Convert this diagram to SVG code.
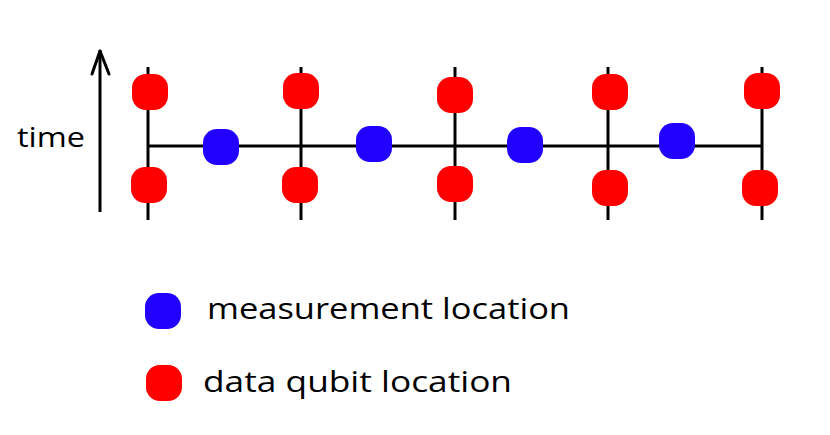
<svg xmlns="http://www.w3.org/2000/svg" width="830" height="435" viewBox="0 0 830 435">
<style>
.ln{stroke:#000;stroke-width:3;fill:none}
.red{fill:#ff0000}
.blue{fill:#2200ff}
.t{font-family:"Comic Sans MS","Open Sans","DejaVu Sans",sans-serif;fill:#000}
</style>
<defs>
<rect id="dot" x="-18" y="-18" width="36" height="36" rx="14"/>
</defs>
<rect width="830" height="435" fill="#fff"/>
<g id="connectors">
<line class="ln" x1="148" y1="146" x2="762" y2="146"/>
<line class="ln" x1="148" y1="67" x2="148" y2="220"/>
<line class="ln" x1="301" y1="67" x2="301" y2="220"/>
<line class="ln" x1="455" y1="67" x2="455" y2="220"/>
<line class="ln" x1="608" y1="67" x2="608" y2="220"/>
<line class="ln" x1="762" y1="67" x2="762" y2="220"/>
</g>
<g id="time-axis">
<line class="ln" x1="100" y1="212" x2="100" y2="50"/>
<polyline class="ln" points="92,74 100,51 109,74" stroke-width="4" stroke-linejoin="round" stroke-linecap="round"/>
<text class="t" x="17" y="147" font-size="28" font-weight="500" textLength="68" lengthAdjust="spacingAndGlyphs">time</text>
</g>
<g id="data-qubits" class="red">
<use href="#dot" x="150" y="92"/>
<use href="#dot" x="149" y="185"/>
<use href="#dot" x="301" y="91"/>
<use href="#dot" x="300" y="185"/>
<use href="#dot" x="455" y="95"/>
<use href="#dot" x="455" y="184"/>
<use href="#dot" x="610" y="92"/>
<use href="#dot" x="610" y="188"/>
<use href="#dot" x="762" y="91"/>
<use href="#dot" x="760" y="188"/>
</g>
<g id="measurements" class="blue">
<use href="#dot" x="221" y="147"/>
<use href="#dot" x="374" y="144"/>
<use href="#dot" x="525" y="145"/>
<use href="#dot" x="677" y="141"/>
</g>
<g id="legend-measurement">
<use href="#dot" x="163" y="311" class="blue"/>
<text class="t" x="207" y="319" font-size="29" font-weight="500" textLength="363" lengthAdjust="spacingAndGlyphs">measurement location</text>
</g>
<g id="legend-data">
<use href="#dot" x="164" y="383" class="red"/>
<text class="t" x="203" y="392" font-size="29" font-weight="500" textLength="309" lengthAdjust="spacingAndGlyphs">data qubit location</text>
</g>
</svg>
